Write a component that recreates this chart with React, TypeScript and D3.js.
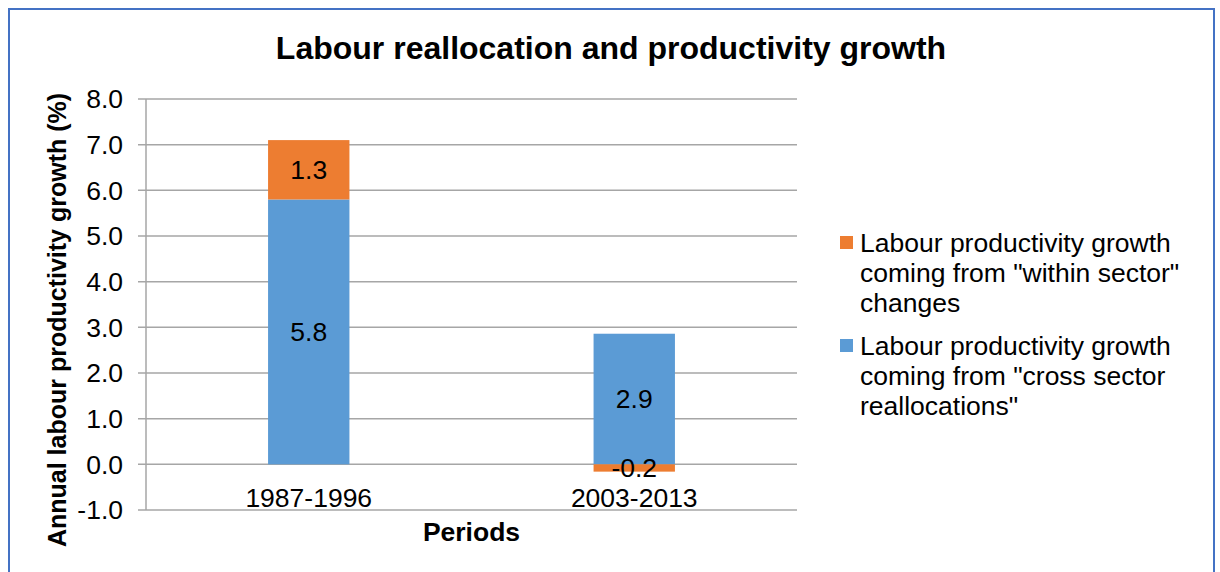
import React from "react";
import * as d3 from "d3";

const categories = ["1987-1996", "2003-2013"];
const crossSector = [5.8, 2.86];
const withinSector = [1.3, -0.16];
const yTicks = [-1, 0, 1, 2, 3, 4, 5, 6, 7, 8];
const seriesNames = [
  ["Labour productivity growth", "coming from \"within sector\"", "changes"],
  ["Labour productivity growth", "coming from \"cross sector", "reallocations\""],
];
const colors = { within: "#ed7d31", cross: "#5b9bd5" };

export default function App() {
  const W = 1220, H = 572;
  const left = 146, right = 797, top = 99, bottom = 510;
  const y = d3.scaleLinear().domain([-1, 8]).range([bottom, top]);
  const x = d3.scaleBand().domain(categories).range([left, right]).padding(0);
  const barW = x.bandwidth() * 0.25;
  const font = "'Liberation Sans', Arial, sans-serif";
  const fmt = (v: number) => d3.format(".1f")(v).replace("\u2212", "-");
  const fs = 26.5;

  const segs: { cat: string; y0: number; y1: number; color: string; v: number }[] = [];
  categories.forEach((c, i) => {
    const b = crossSector[i];
    segs.push({ cat: c, y0: 0, y1: b, color: colors.cross, v: b });
    const o = withinSector[i];
    if (o >= 0) segs.push({ cat: c, y0: b, y1: b + o, color: colors.within, v: o });
    else segs.push({ cat: c, y0: o, y1: 0, color: colors.within, v: o });
  });

  return (
    <svg width={W} height={H} style={{ position: "absolute", left: 0, top: 0 }} fontFamily={font}>
      <rect x={0} y={0} width={W} height={H} fill="#fff" />
      <rect x={9} y={9} width={1205} height={620} fill="#fff" stroke="#4472c4" strokeWidth={2} />
      <text x={611} y={59} textAnchor="middle" fontSize={32} fontWeight="bold">
        Labour reallocation and productivity growth
      </text>
      {yTicks.map((t) => (
        <g key={t}>
          <line x1={138} x2={right} y1={y(t)} y2={y(t)} stroke="#a6a6a6" strokeWidth={1.5} />
          <text x={123} y={y(t)} dy="0.35em" textAnchor="end" fontSize={fs}>
            {fmt(t)}
          </text>
        </g>
      ))}
      <line x1={left} x2={left} y1={top} y2={bottom} stroke="#a6a6a6" strokeWidth={1.5} />
      {segs.map((s, i) => (
        <g key={i}>
          <rect
            x={(x(s.cat) as number) + x.bandwidth() / 2 - barW / 2}
            width={barW}
            y={y(s.y1)}
            height={y(s.y0) - y(s.y1)}
            fill={s.color}
          />
          <text
            x={(x(s.cat) as number) + x.bandwidth() / 2}
            y={(y(s.y0) + y(s.y1)) / 2}
            dy="0.35em"
            textAnchor="middle"
            fontSize={fs}
          >
            {fmt(s.v)}
          </text>
        </g>
      ))}
      {categories.map((c) => (
        <text key={c} x={(x(c) as number) + x.bandwidth() / 2} y={507} textAnchor="middle" fontSize={fs}>
          {c}
        </text>
      ))}
      <text x={(left + right) / 2} y={541} textAnchor="middle" fontSize={fs} fontWeight="bold">
        Periods
      </text>
      <text
        transform={`translate(66, 320) rotate(-90)`}
        textAnchor="middle"
        fontSize={25}
        fontWeight="bold"
      >
        Annual labour productivity growth (%)
      </text>
      {seriesNames.map((lines, i) => (
        <g key={i} transform={`translate(840, ${236 + i * 103})`}>
          <rect x={0} y={0} width={13} height={13} fill={i === 0 ? colors.within : colors.cross} />
          {lines.map((l, j) => (
            <text key={j} x={20} y={16 + j * 30} fontSize={fs}>
              {l}
            </text>
          ))}
        </g>
      ))}
    </svg>
  );
}
